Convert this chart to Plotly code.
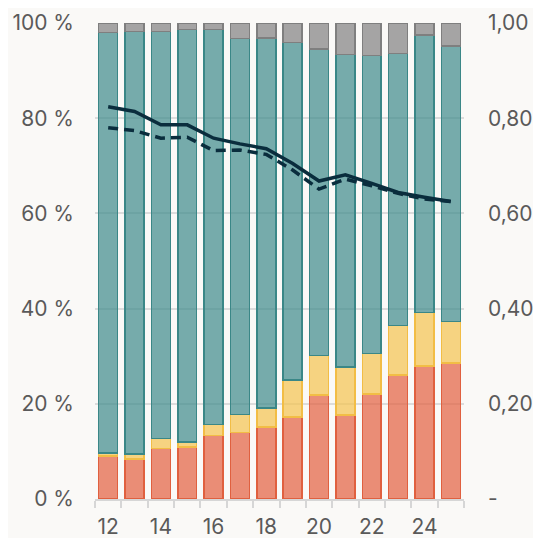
import plotly.graph_objects as go

years = [12, 13, 14, 15, 16, 17, 18, 19, 20, 21, 22, 23, 24, 25]
red = [9.0, 8.4, 10.6, 10.9, 13.3, 14.0, 15.1, 17.2, 21.9, 17.6, 22.1, 26.0, 27.9, 28.6]
yellow_top = [9.7, 9.5, 12.75, 12.0, 15.6, 17.8, 19.1, 25.0, 30.1, 27.7, 30.6, 36.5, 39.2, 37.3]
teal_top = [98.0, 98.2, 98.2, 98.6, 98.6, 96.7, 96.8, 95.9, 94.5, 93.4, 93.2, 93.6, 97.5, 95.2]
solid_line = [0.824, 0.814, 0.786, 0.786, 0.758, 0.746, 0.736, 0.705, 0.668, 0.681, 0.663, 0.644, 0.634, 0.625]
dashed_line = [0.780, 0.774, 0.758, 0.760, 0.732, 0.733, 0.724, 0.691, 0.651, 0.672, 0.658, 0.642, 0.630, 0.625]

yellow = [round(y - r, 2) for y, r in zip(yellow_top, red)]
teal = [round(t - y, 2) for t, y in zip(teal_top, yellow_top)]
gray = [round(100 - t, 2) for t in teal_top]

left_vals = [0, 20, 40, 60, 80, 100]
left_text = ["0 %", "20 %", "40 %", "60 %", "80 %", "100 %"]
right_vals = [0, 0.2, 0.4, 0.6, 0.8, 1.0]
right_text = ["-", "0,20", "0,40", "0,60", "0,80", "1,00"]
x_labels = [12, 14, 16, 18, 20, 22, 24]

fig = go.Figure()
series = [
    (red, "rgba(226,96,63,0.7)", "#e0603f"),
    (yellow, "rgba(244,195,79,0.7)", "#f2bd45"),
    (teal, "rgba(61,138,138,0.7)", "#3a8787"),
    (gray, "rgba(128,128,128,0.7)", "#7f7f7f"),
]
for vals, fill, line in series:
    fig.add_trace(go.Bar(x=years, y=vals, width=0.72,
                         marker=dict(color=fill, line=dict(color=line, width=1.5)),
                         showlegend=False, hoverinfo="skip"))

fig.add_trace(go.Scatter(x=years, y=solid_line, yaxis="y2", mode="lines",
                         line=dict(color="#0a2d3d", width=3.5), showlegend=False))
fig.add_trace(go.Scatter(x=years, y=dashed_line, yaxis="y2", mode="lines",
                         line=dict(color="#0a2d3d", width=3.5, dash="10px,6px"), showlegend=False))

font = dict(family="Inter, sans-serif", size=21, color="#5a5a5a")
fig.update_layout(
    width=541, height=538,
    margin=dict(l=87, r=85, t=15, b=47),
    paper_bgcolor="#faf9f7", plot_bgcolor="#faf9f7",
    barmode="stack", bargap=0.28,
    font=font,
    xaxis=dict(range=[11.5, 25.5], tickvals=x_labels, ticktext=[str(v) for v in x_labels],
               ticks="", showgrid=False, zeroline=False, automargin=False,
               showline=True, linecolor="#d6d6d6", linewidth=1.5,
               minor=dict(tickvals=[v + 0.5 for v in range(11, 26)], ticks="outside",
                          ticklen=7, tickcolor="#d6d6d6", tickwidth=1.5, showgrid=False),
               tickfont=font, ticklabelstandoff=8),
    yaxis=dict(range=[0, 100], tickvals=left_vals, ticktext=left_text, automargin=False,
               showgrid=True, gridcolor="#dcdcdc", gridwidth=1.5, zeroline=False,
               ticks="", tickfont=font, ticklabelstandoff=20),
    yaxis2=dict(range=[0, 1], tickvals=right_vals, ticktext=right_text, automargin=False,
                overlaying="y", side="right", showgrid=False, zeroline=False,
                ticks="", tickfont=font, ticklabelstandoff=23),
)

fig.write_html("out.html")
